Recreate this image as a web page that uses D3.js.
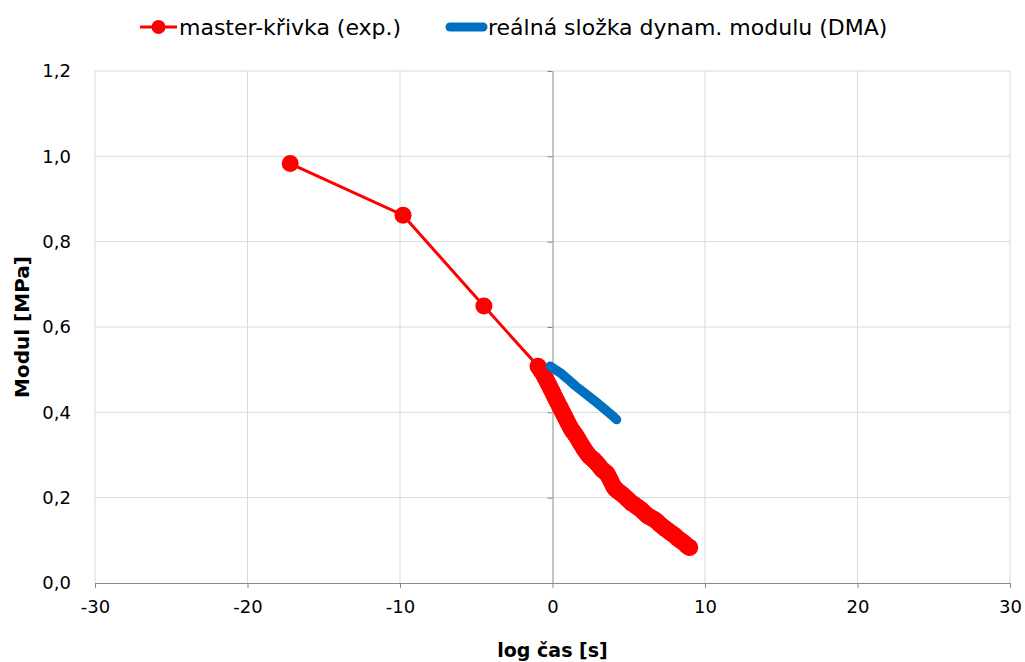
<!DOCTYPE html>
<html>
<head>
<meta charset="utf-8">
<script src="https://cdn.jsdelivr.net/npm/d3@7"></script>
<style>
  body { margin: 0; background: #fff; }
  svg { font-family: "DejaVu Sans", "Open Sans", sans-serif; }
</style>
</head>
<body>
<div id="chart"></div>
<script>
// master curve (exp.) – log time [s] and modulus [MPa]
const masterX = [-17.2, -9.8, -4.5,
  -0.95, -0.85, -0.75, -0.65, -0.55, -0.45, -0.35, -0.25, -0.15, -0.05,
  0.05, 0.15, 0.25, 0.35, 0.45, 0.55, 0.65, 0.75, 0.85, 0.95,
  1.05, 1.15, 1.25, 1.35, 1.45, 1.55, 1.65, 1.75, 1.85, 1.95,
  2.05, 2.15, 2.25, 2.35, 2.45, 2.55, 2.65, 2.75, 2.85, 2.95,
  3.05, 3.15, 3.25, 3.35, 3.45, 3.55, 3.65, 3.75, 3.85, 3.95,
  4.05, 4.15, 4.3, 4.45, 4.6, 4.75, 4.9, 5.05, 5.2, 5.35, 5.5, 5.65, 5.8, 5.95,
  6.1, 6.25, 6.4, 6.55, 6.7, 6.85, 7.0, 7.15, 7.3, 7.45, 7.6, 7.75, 7.9,
  8.05, 8.2, 8.35, 8.5, 8.65, 8.8, 8.95, 9.0];
const masterY = [0.983, 0.862, 0.649,
  0.508, 0.503, 0.497, 0.492, 0.486, 0.479, 0.472, 0.465, 0.458, 0.451,
  0.444, 0.436, 0.429, 0.422, 0.415, 0.408, 0.401, 0.394, 0.387, 0.380,
  0.373, 0.366, 0.360, 0.355, 0.350, 0.345, 0.339, 0.333, 0.327, 0.321,
  0.315, 0.310, 0.305, 0.300, 0.296, 0.293, 0.290, 0.287, 0.283, 0.279,
  0.275, 0.270, 0.266, 0.263, 0.260, 0.257, 0.252, 0.245, 0.238, 0.230,
  0.224, 0.220, 0.215, 0.211, 0.207, 0.202, 0.197, 0.192, 0.187, 0.184, 0.180, 0.176, 0.172, 0.167,
  0.162, 0.157, 0.154, 0.151, 0.148, 0.144, 0.139, 0.134, 0.130, 0.126, 0.122, 0.118, 0.114,
  0.110, 0.105, 0.101, 0.097, 0.093, 0.088, 0.084, 0.083];

// real part of dynamic modulus (DMA)
const dmaX = [-0.15, 0.5, 1.0, 1.5, 2.0, 2.5, 3.0, 3.5, 4.0, 4.2];
const dmaY = [0.508, 0.493, 0.478, 0.462, 0.448, 0.434, 0.420, 0.405, 0.390, 0.383];

const xTicks = [-30, -20, -10, 0, 10, 20, 30];
const yTicks = [0, 0.2, 0.4, 0.6, 0.8, 1.0, 1.2];

const seriesNames = ["master-křivka (exp.)", "reálná složka dynam. modulu (DMA)"];
const xTitle = "log čas [s]";
const yTitle = "Modul [MPa]";

const width = 1025, height = 662;
const margin = { top: 71, right: 15, bottom: 79, left: 95 };

const svg = d3.select('#chart')
  .append('svg')
  .attr('width', width)
  .attr('height', height);

const x = d3.scaleLinear().domain([-30, 30]).range([margin.left, width - margin.right]);
const y = d3.scaleLinear().domain([0, 1.2]).range([height - margin.bottom, margin.top]);

const cz = d3.formatLocale({ decimal: ",", thousands: " ", grouping: [3], currency: ["", ""] });
const fmtY = cz.format(".1f");

// grid
svg.append('g')
  .selectAll('line')
  .data(yTicks.slice(1))
  .join('line')
  .attr('x1', x(-30)).attr('x2', x(30))
  .attr('y1', d => y(d)).attr('y2', d => y(d))
  .attr('stroke', '#d9d9d9').attr('stroke-width', 1);

svg.append('g')
  .selectAll('line')
  .data(xTicks.filter(d => d !== 0))
  .join('line')
  .attr('x1', d => x(d)).attr('x2', d => x(d))
  .attr('y1', y(0)).attr('y2', y(1.2))
  .attr('stroke', '#d9d9d9').attr('stroke-width', 1);

// x axis (bottom)
const xAxis = svg.append('g')
  .attr('transform', `translate(0, ${y(0)})`)
  .call(d3.axisBottom(x).tickValues(xTicks).tickSize(5).tickSizeOuter(0).tickPadding(12).tickFormat(d3.format("d")));
xAxis.select('.domain').attr('stroke', '#898989');
xAxis.selectAll('.tick line').attr('stroke', '#898989');
xAxis.selectAll('.tick text')
  .attr('fill', '#000').attr('font-size', '18px').attr('font-family', '"DejaVu Sans", sans-serif')
  .text(d => d < 0 ? '-' + Math.abs(d) : d);

// y axis crosses at x = 0
const yAxis = svg.append('g')
  .attr('transform', `translate(${x(0)}, 0)`)
  .call(d3.axisLeft(y).tickValues(yTicks).tickSize(5).tickSizeOuter(0).tickFormat(''));
yAxis.select('.domain').attr('stroke', '#898989');
yAxis.selectAll('.tick line').attr('stroke', '#898989');

// y labels at the low side
svg.append('g')
  .selectAll('text')
  .data(yTicks)
  .join('text')
  .attr('x', margin.left - 24)
  .attr('y', d => y(d))
  .attr('dy', '0.35em')
  .attr('text-anchor', 'end')
  .attr('font-size', '18px')
  .text(d => fmtY(d));

// axis titles
svg.append('text')
  .attr('x', (x(-30) + x(30)) / 2)
  .attr('y', 657)
  .attr('text-anchor', 'middle')
  .attr('font-size', '19px')
  .attr('font-weight', 'bold')
  .text(xTitle);

svg.append('text')
  .attr('transform', `translate(29, ${(y(0) + y(1.2)) / 2}) rotate(-90)`)
  .attr('text-anchor', 'middle')
  .attr('font-size', '20px')
  .attr('font-weight', 'bold')
  .text(yTitle);

// master curve
const masterData = masterX.map((d, i) => [d, masterY[i]]);
const dmaData = dmaX.map((d, i) => [d, dmaY[i]]);
const line = d3.line().x(d => x(d[0])).y(d => y(d[1]));

svg.append('path')
  .datum(masterData)
  .attr('d', line)
  .attr('fill', 'none')
  .attr('stroke', '#ff0000')
  .attr('stroke-width', 3);

svg.append('g')
  .selectAll('circle')
  .data(masterData)
  .join('circle')
  .attr('cx', d => x(d[0]))
  .attr('cy', d => y(d[1]))
  .attr('r', 8.5)
  .attr('fill', '#ff0000');

// DMA line
svg.append('path')
  .datum(dmaData)
  .attr('d', line)
  .attr('fill', 'none')
  .attr('stroke', '#0070c0')
  .attr('stroke-width', 9.5)
  .attr('stroke-linecap', 'round')
  .attr('stroke-linejoin', 'round');

// legend
const legend = svg.append('g');
legend.append('line')
  .attr('x1', 140).attr('x2', 177).attr('y1', 27).attr('y2', 27)
  .attr('stroke', '#ff0000').attr('stroke-width', 3);
legend.append('circle')
  .attr('cx', 158.5).attr('cy', 27).attr('r', 7).attr('fill', '#ff0000');
legend.append('text')
  .attr('x', 179).attr('y', 27).attr('dy', '0.35em')
  .attr('font-size', '22px')
  .text(seriesNames[0]);

legend.append('line')
  .attr('x1', 450).attr('x2', 483).attr('y1', 27).attr('y2', 27)
  .attr('stroke', '#0070c0').attr('stroke-width', 9).attr('stroke-linecap', 'round');
legend.append('text')
  .attr('x', 488).attr('y', 27).attr('dy', '0.35em')
  .attr('font-size', '22px')
  .text(seriesNames[1]);
</script>
</body>
</html>
